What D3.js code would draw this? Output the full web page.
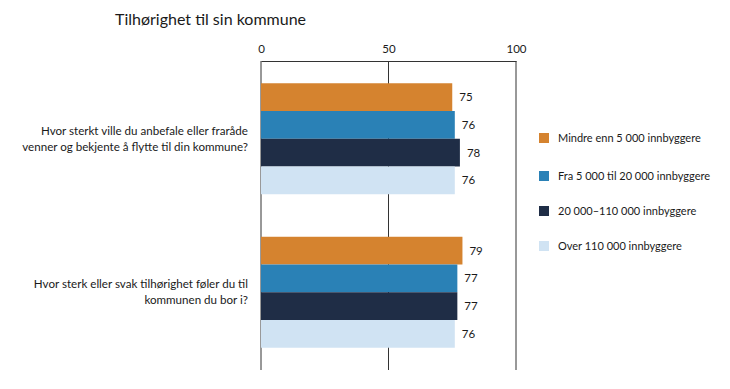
<!DOCTYPE html>
<html>
<head>
<meta charset="utf-8">
<script src="https://cdn.jsdelivr.net/npm/d3@7"></script>
<style>
  body { margin: 0; background: #fff; }
  text { font-family: Lato, "Open Sans", sans-serif; fill: #1a1a1a; }
</style>
</head>
<body>
<div id="chart"></div>
<script>
// data
var questions = ["q1", "q2"];
var questionLines = [
  ["Hvor sterkt ville du anbefale eller fraråde", "venner og bekjente å flytte til din kommune?"],
  ["Hvor sterk eller svak tilhørighet føler du til", "kommunen du bor i?"]
];
var seriesNames = [
  "Mindre enn 5 000 innbyggere",
  "Fra 5 000 til 20 000 innbyggere",
  "20 000\u2013110 000 innbyggere",
  "Over 110 000 innbyggere"
];
var seriesColors = ["#d5832f", "#2a81b6", "#1f2d46", "#d0e3f3"];
// values per question, one per series
var valuesQ1 = [75, 76, 78, 76];
var valuesQ2 = [79, 77, 77, 76];
var allValues = [valuesQ1, valuesQ2];
var xTicks = [0, 50, 100];

var svgWidth = 730, svgHeight = 389;
var svg = d3.select("#chart").append("svg")
  .attr("width", svgWidth).attr("height", svgHeight);

var x = d3.scaleLinear().domain([0, 100]).range([261, 516]);
var y = d3.scaleBand().domain(questions).range([61, 370])
  .paddingInner(0.277).paddingOuter(0.145);
var ySub = d3.scaleBand().domain(seriesNames).range([0, y.bandwidth()]);

// title
svg.append("text").attr("x", 115).attr("y", 25)
  .style("font-size", "16px").text("Tilhørighet til sin kommune");

// gridlines
svg.append("g").selectAll("line").data(xTicks).join("line")
  .attr("x1", d => x(d)).attr("x2", d => x(d))
  .attr("y1", 61).attr("y2", 370)
  .attr("stroke", "#333").attr("stroke-width", 1);

// top axis
var axis = svg.append("g").attr("transform", "translate(0,61)")
  .call(d3.axisTop(x).tickValues(xTicks).tickSize(0).tickPadding(8));
axis.select(".domain").attr("stroke", "#333");
axis.selectAll("text").style("font-size", "11.5px").style("font-family", "Lato, sans-serif").attr("fill", "#1a1a1a");

// bars
var groups = svg.append("g").selectAll("g").data(questions).join("g")
  .attr("transform", d => "translate(0," + y(d) + ")");

groups.each(function(q, qi) {
  var g = d3.select(this);
  var vals = allValues[qi];
  g.selectAll("rect").data(vals).join("rect")
    .attr("x", x(0))
    .attr("y", (v, i) => ySub(seriesNames[i]))
    .attr("width", v => x(v) - x(0))
    .attr("height", ySub.bandwidth())
    .attr("fill", (v, i) => seriesColors[i]);
  g.selectAll("text.val").data(vals).join("text").attr("class", "val")
    .attr("x", v => x(v) + 7)
    .attr("y", (v, i) => ySub(seriesNames[i]) + ySub.bandwidth() / 2)
    .attr("dy", "0.35em")
    .style("font-size", "11.5px")
    .text(v => v);
  g.append("text")
    .attr("text-anchor", "end")
    .attr("x", 248)
    .attr("y", y.bandwidth() / 2 - 4)
    .style("font-size", "11.6px")
    .selectAll("tspan").data(questionLines[qi]).join("tspan")
    .attr("x", 248)
    .attr("dy", (d, i) => i === 0 ? 0 : 16)
    .text(d => d);
});

// legend
var legendY = [138, 176, 211, 246];
var legend = svg.append("g").selectAll("g").data(seriesNames).join("g")
  .attr("transform", (d, i) => "translate(539," + legendY[i] + ")");
legend.append("rect").attr("x", 0).attr("y", -5).attr("width", 10).attr("height", 10)
  .attr("fill", (d, i) => seriesColors[i]);
legend.append("text").attr("x", 19).attr("dy", "0.35em")
  .style("font-size", "11px").text(d => d);
</script>
</body>
</html>
